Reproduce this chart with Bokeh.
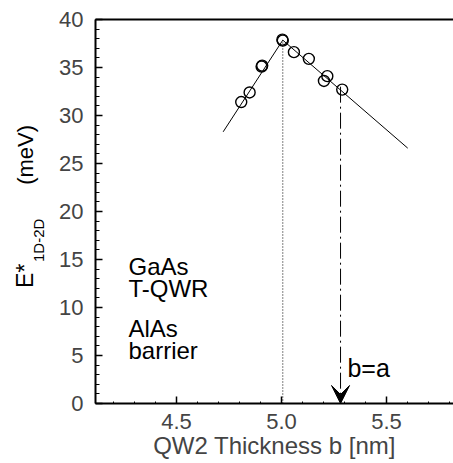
import math
from bokeh.plotting import figure
from bokeh.layouts import row
from bokeh.models import (Range1d, FixedTicker, LinearAxis, Label, Arrow, VeeHead)
from bokeh.core.properties import value
from bokeh.embed import file_html
from bokeh.resources import INLINE

# ---- data ----
b_nm = [4.808, 4.848, 4.905, 4.908, 5.006, 5.004, 5.059, 5.130, 5.202, 5.218, 5.289]
E_meV = [31.4, 32.4, 35.1, 35.2, 37.8, 37.9, 36.6, 35.9, 33.6, 34.1, 32.7]

fit_b = [4.722, 5.006, 5.601]
fit_E = [28.3, 37.85, 26.6]

peak_b = 5.006
peak_E = 37.85
eq_b = 5.281
eq_E_top = 33.0

x_ticks = [4.5, 5.0, 5.5]
y_ticks = [0, 5, 10, 15, 20, 25, 30, 35, 40]
y_minor = list(range(0, 41))
x_minor = [round(4.2 + 0.1 * i, 1) for i in range(17)]

FONT = "Liberation Sans"
TITLE_W = 50
H = 463

# ---------------- main plot ----------------
p = figure(width=453 - TITLE_W, height=H, output_backend="svg", toolbar_location=None,
           x_range=Range1d(4.114, 5.819), y_range=Range1d(0, 40),
           min_border_left=95 - TITLE_W, min_border_right=0, min_border_top=19,
           min_border_bottom=60, x_axis_location=None, y_axis_location=None)
p.outline_line_color = None
p.grid.visible = False
p.background_fill_color = "white"
p.border_fill_color = "white"

xa = LinearAxis(ticker=FixedTicker(ticks=x_ticks, minor_ticks=x_minor),
                axis_label="QW2 Thickness b [nm]")
xa.major_label_overrides = {4.5: "4.5", 5.0: "5.0", 5.5: "5.5"}
xa.major_tick_in = 7
xa.major_tick_out = 0
xa.minor_tick_in = 2
xa.minor_tick_out = 0
xa.axis_line_width = 2
xa.major_tick_line_width = 1.5
xa.major_label_text_font = FONT
xa.major_label_text_font_size = "22px"
xa.major_label_standoff = 10
xa.axis_label_text_font = FONT
xa.axis_label_text_font_size = "24px"
xa.axis_label_text_font_style = "normal"
xa.axis_label_standoff = 0
p.add_layout(xa, "below")

ya = LinearAxis(ticker=FixedTicker(ticks=y_ticks, minor_ticks=y_minor))
ya.major_tick_in = 7
ya.major_tick_out = 0
ya.minor_tick_in = 4
ya.minor_tick_out = 0
ya.axis_line_width = 2
ya.major_tick_line_width = 1.5
ya.major_label_text_font = FONT
ya.major_label_text_font_size = "22px"
ya.major_label_standoff = 12
p.add_layout(ya, "left")

ta = LinearAxis(ticker=FixedTicker(ticks=[]), major_label_text_font_size="0px")
ta.major_tick_in = 0
ta.major_tick_out = 0
ta.axis_line_width = 2
p.add_layout(ta, "above")

# fitted lines
p.line(fit_b, fit_E, line_color="black", line_width=1)

# vertical guides
p.line([peak_b, peak_b], [0, peak_E], line_color="black", line_width=1, line_dash="1 2")
p.add_layout(Arrow(x_start=eq_b, y_start=eq_E_top, x_end=eq_b, y_end=0,
                   line_color="black", line_width=1, line_dash="16 4 2 4",
                   end=VeeHead(size=18, fill_color="black", line_color="black")))

# data points
p.scatter(b_nm, E_meV, marker="circle", size=11, fill_color=None,
          line_color="black", line_width=1.4)

# text annotations
def lab(x, y, t, size):
    p.add_layout(Label(x=x, y=y, text=t, text_font=FONT, text_font_size=size,
                       text_color="black", text_baseline="middle"))

lab(4.271, 14.3, "GaAs", "24px")
lab(4.271, 12.0, "T-QWR", "24px")
lab(4.271, 7.8, "AlAs", "24px")
lab(4.271, 5.5, "barrier", "24px")
lab(5.314, 3.74, "b=a", "25px")

# ---------------- y-axis title strip (rotated, with sub/superscript) ----------------
# shares the main plot's vertical scale (frames are aligned in the row)
t = figure(width=TITLE_W, height=H, output_backend="svg", toolbar_location=None,
           x_range=Range1d(0, TITLE_W), y_range=Range1d(0, 40),
           min_border_left=0, min_border_right=0, min_border_top=19, min_border_bottom=60,
           x_axis_location=None, y_axis_location=None)
t.outline_line_color = None
t.grid.visible = False
t.background_fill_color = "white"
t.border_fill_color = "white"

ang = math.pi / 2

def vtext(cx, cy, s, size):
    t.text(x=[cx], y=[cy], text=[s], angle=ang, text_font=value(FONT),
           text_font_size=size, text_baseline="middle", text_align="center",
           text_color="black")

vtext(24.7, 13.3, "E*", "23px")
vtext(37.7, 17.0, "1D-2D", "15px")
vtext(24.6, 25.9, "(meV)", "22px")

layout = row(t, p, spacing=0)
open("out.html", "w").write(file_html(layout, INLINE))
